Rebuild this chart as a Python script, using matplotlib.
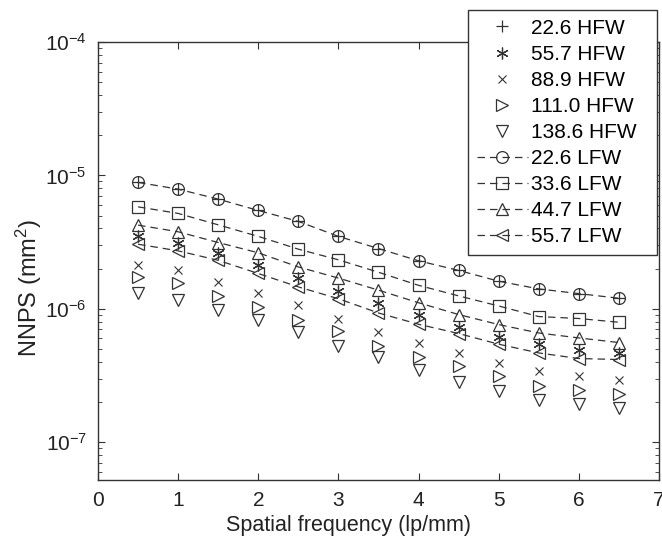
import matplotlib
matplotlib.use('Agg')
import matplotlib.pyplot as plt

plt.rcParams['font.family'] = ['Liberation Sans', 'DejaVu Sans']
plt.rcParams['mathtext.fontset'] = 'custom'
plt.rcParams['mathtext.rm'] = 'Liberation Sans'
plt.rcParams['mathtext.it'] = 'Liberation Sans:italic'

freq = [0.5, 1.0, 1.5, 2.0, 2.5, 3.0, 3.5, 4.0, 4.5, 5.0, 5.5, 6.0, 6.5]

# HFW series (markers only)
hfw_22_6 = [8.86e-6, 7.89e-6, 6.64e-6, 5.46e-6, 4.52e-6, 3.49e-6, 2.83e-6,
            2.29e-6, 1.94e-6, 1.61e-6, 1.41e-6, 1.30e-6, 1.20e-6]
hfw_55_7 = [3.50e-6, 3.09e-6, 2.63e-6, 2.12e-6, 1.71e-6, 1.36e-6, 1.10e-6,
            8.95e-7, 7.31e-7, 6.15e-7, 5.49e-7, 4.89e-7, 4.67e-7]
hfw_88_9 = [2.12e-6, 1.95e-6, 1.59e-6, 1.32e-6, 1.06e-6, 8.46e-7, 6.71e-7,
            5.55e-7, 4.70e-7, 3.93e-7, 3.42e-7, 3.12e-7, 2.91e-7]
hfw_111_0 = [1.72e-6, 1.55e-6, 1.25e-6, 1.03e-6, 8.31e-7, 6.79e-7, 5.27e-7,
             4.36e-7, 3.73e-7, 3.12e-7, 2.64e-7, 2.45e-7, 2.31e-7]
hfw_138_6 = [1.32e-6, 1.16e-6, 9.88e-7, 8.21e-7, 6.68e-7, 5.27e-7, 4.36e-7,
             3.50e-7, 2.83e-7, 2.42e-7, 2.09e-7, 1.92e-7, 1.82e-7]

# LFW series (dashed lines with markers)
lfw_22_6 = [8.86e-6, 7.89e-6, 6.64e-6, 5.46e-6, 4.52e-6, 3.49e-6, 2.83e-6,
            2.29e-6, 1.94e-6, 1.61e-6, 1.41e-6, 1.30e-6, 1.20e-6]
lfw_33_6 = [5.81e-6, 5.19e-6, 4.26e-6, 3.49e-6, 2.80e-6, 2.33e-6, 1.88e-6,
            1.50e-6, 1.25e-6, 1.05e-6, 8.75e-7, 8.46e-7, 7.93e-7]
lfw_44_7 = [4.24e-6, 3.78e-6, 3.14e-6, 2.63e-6, 2.06e-6, 1.70e-6, 1.38e-6,
            1.11e-6, 9.06e-7, 7.62e-7, 6.59e-7, 6.05e-7, 5.59e-7]
lfw_55_7 = [3.05e-6, 2.72e-6, 2.31e-6, 1.84e-6, 1.46e-6, 1.19e-6, 9.31e-7,
            7.66e-7, 6.53e-7, 5.43e-7, 4.67e-7, 4.24e-7, 4.17e-7]

c = '#333333'
fig = plt.figure(figsize=(6.62, 5.45), dpi=100)
ax = fig.add_axes([0.148, 0.119, 0.8475, 0.804])

ms = 8.5
ax.plot(freq, hfw_22_6, ls='none', marker='+', ms=ms, mew=0.9, color=c, label='22.6 HFW')
ax.plot(freq, hfw_55_7, ls='none', marker=(6, 2, 0), ms=ms, mew=0.9, color=c, label='55.7 HFW')
ax.plot(freq, hfw_88_9, ls='none', marker='x', ms=6, mew=0.8, color=c, label='88.9 HFW')
ax.plot(freq, hfw_111_0, ls='none', marker='>', ms=ms, mew=0.9, mfc='none', color=c, label='111.0 HFW')
ax.plot(freq, hfw_138_6, ls='none', marker='v', ms=ms, mew=0.9, mfc='none', color=c, label='138.6 HFW')

dash = (0, (6, 4))
ax.plot(freq, lfw_22_6, ls=dash, lw=0.9, marker='o', ms=ms, mew=0.9, mfc='none', color=c, label='22.6 LFW')
ax.plot(freq, lfw_33_6, ls=dash, lw=0.9, marker='s', ms=ms - 0.5, mew=0.9, mfc='none', color=c, label='33.6 LFW')
ax.plot(freq, lfw_44_7, ls=dash, lw=0.9, marker='^', ms=ms, mew=0.9, mfc='none', color=c, label='44.7 LFW')
ax.plot(freq, lfw_55_7, ls=dash, lw=0.9, marker='<', ms=ms, mew=0.9, mfc='none', color=c, label='55.7 LFW')

ax.set_yscale('log')
ax.set_xlim(0, 7)
ax.set_ylim(5.2e-8, 1e-4)
ax.set_xticks(range(8))
ax.tick_params(which='both', direction='in', top=True, right=True, labelsize=15, colors=c, labelcolor='#222222')
ax.tick_params(which='major', length=5, pad=8)
ax.tick_params(which='minor', length=3)
for s in ax.spines.values():
    s.set_color(c)
    s.set_linewidth(1.0)

ax.set_xlabel('Spatial frequency (lp/mm)', fontsize=15.5, color='#222222')
ax.set_ylabel('NNPS (mm$^2$)', fontsize=17, color='#222222')
ax.xaxis.set_label_coords(0.446, -0.08)
ax.yaxis.set_label_coords(-0.096, 0.438)

leg = ax.legend(loc='upper left', bbox_to_anchor=(468 / 662, 1 - 256 / 545, 189 / 662, 246 / 545),
                bbox_transform=fig.transFigure, mode='expand', fontsize=15, frameon=True,
                fancybox=False, framealpha=1, edgecolor=c, handlelength=2.45, handletextpad=0.15,
                labelspacing=0.34, borderpad=0.42, borderaxespad=0)
leg.get_frame().set_linewidth(1.0)

fig.savefig('out.png', dpi=100)
